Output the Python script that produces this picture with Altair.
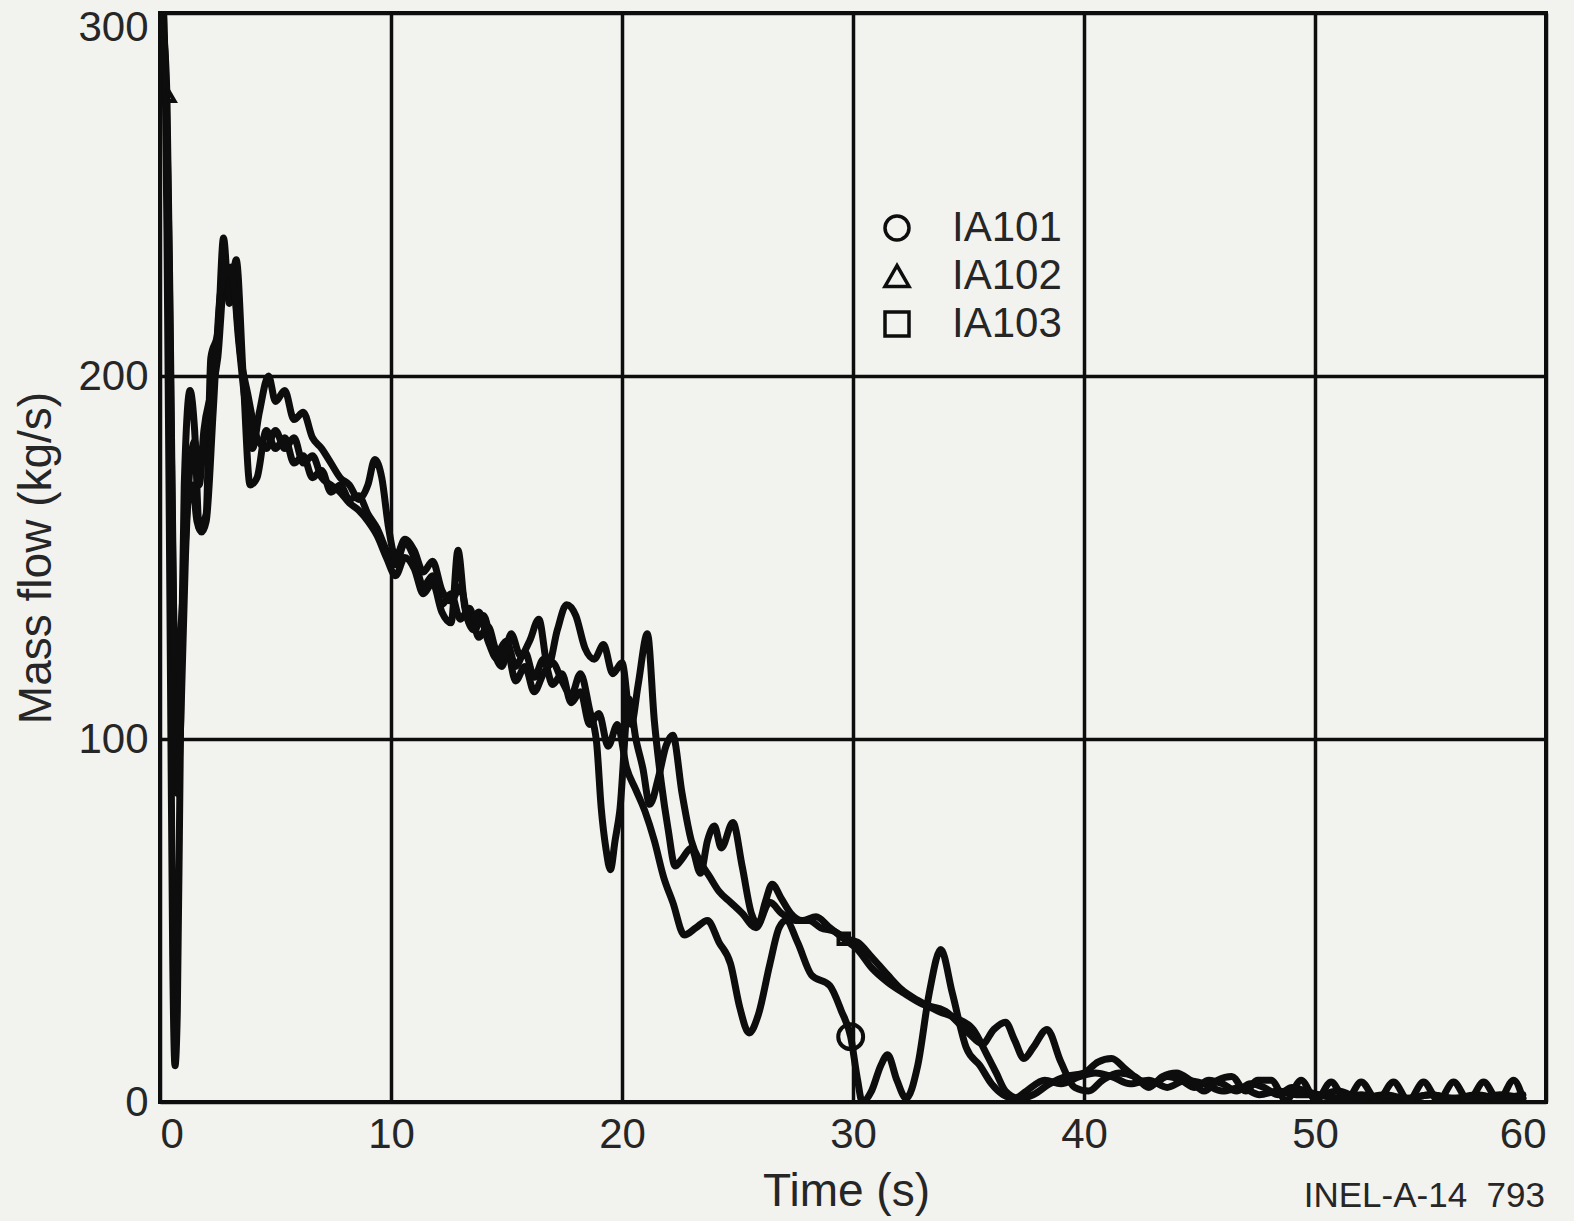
import altair as alt
import pandas as pd

# Mass-flow traces for the three instruments (time in s, flow in kg/s)
t101 = [0, 0.15, 0.3, 0.45, 0.55, 0.65, 0.75, 0.9, 1.05, 1.3, 1.5, 1.7, 2.0, 2.2, 2.5, 2.75,
        3.0, 3.3, 3.6, 3.9, 4.2, 4.6, 5.0, 5.4, 5.8, 6.2, 6.6, 7.0, 7.4, 7.8, 8.2, 8.6, 9.0,
        9.4, 9.8, 10.2, 10.6, 11.0, 11.4, 11.8, 12.2, 12.6, 13.0, 13.4, 13.8, 14.2, 14.6,
        15.0, 15.4, 15.8, 16.2, 16.6, 17.0, 17.4, 17.8, 18.2, 18.6, 19.0, 19.4, 19.8, 20.2,
        20.6, 21.0, 21.4, 21.8, 22.2, 22.7, 23.2, 23.7, 24.2, 24.7, 25.1, 25.5, 25.9, 26.4,
        26.8, 27.1, 27.6, 28.2, 29.0, 29.5, 29.9, 30.2, 30.4, 30.8, 31.2, 31.5, 31.9, 32.3,
        32.8, 33.3, 33.8, 34.3, 34.9, 35.5, 36.0, 36.5, 37.0, 37.5, 38.3, 39.0, 39.8, 40.5,
        41.2, 42.0, 42.8, 43.6, 44.4, 45.2, 46.0, 46.8, 47.6, 48.4, 49.2, 50.0, 51.0, 52.0,
        53.0, 54.0, 55.0, 56.0, 57.0, 58.0, 59.0]
v101 = [298, 300, 240, 120, 40, 10, 25, 110, 170, 196, 185, 158, 162, 205, 212, 238,
        220, 232, 200, 170, 172, 185, 180, 183, 176, 178, 172, 174, 168, 170, 166, 167, 162,
        158, 152, 148, 154, 150, 142, 145, 137, 140, 133, 136, 128, 131, 124,
        127, 120, 124, 117, 122, 115, 118, 110, 113, 104, 107, 98, 104, 92,
        86, 80, 72, 62, 55, 46, 48, 50, 44, 38, 26, 19, 24, 38,
        48, 50, 44, 35, 32, 25, 18, 6, 0, 3, 10, 13, 6, 1,
        10, 30, 42, 30, 15, 10, 5, 2, 1, 3, 6, 5, 7, 8,
        7, 5, 6, 4, 6, 5, 3, 4, 2, 3, 2, 2, 1, 2,
        1, 1, 2, 1, 1, 2, 1]

t102 = [0, 0.15, 0.3, 0.45, 0.6, 0.75, 0.9, 1.1, 1.3, 1.5, 1.7, 1.9, 2.2, 2.5, 2.8, 3.1,
        3.4, 3.7, 4.0, 4.3, 4.7, 5.0, 5.4, 5.8, 6.2, 6.6, 7.0, 7.4, 7.8, 8.2, 8.6, 9.0,
        9.3, 9.6, 9.9, 10.2, 10.6, 11.0, 11.4, 11.8, 12.2, 12.6, 13.0, 13.4, 13.8, 14.2,
        14.6, 15.0, 15.4, 15.8, 16.2, 16.6, 17.0, 17.4, 17.8, 18.2, 18.6, 18.9, 19.1, 19.3,
        19.5, 19.7, 19.9, 20.3, 20.6, 20.9, 21.2, 21.6, 21.9, 22.2, 22.6, 23.0, 23.4, 23.8,
        24.2, 24.7, 25.2, 25.8, 26.4, 26.9, 27.5, 28.1, 28.6, 29.2, 29.7, 30.2, 30.8, 31.5,
        32.1, 32.8, 33.7, 34.5, 35.2, 35.8, 36.2, 36.6, 37.2, 37.8, 38.5, 39.2, 40.0, 40.6,
        41.2, 41.8, 42.4, 43.0, 43.6, 44.2, 44.8, 45.4, 46.0, 46.6, 47.2, 47.8, 48.4, 49.0,
        49.6, 50.2, 51.0, 52.0, 53.0, 54.0, 55.0, 56.0, 57.0, 58.0, 59.0]
v102 = [300, 295, 277, 210, 130, 85, 105, 150, 175, 182, 170, 185, 195, 205, 228, 230,
        210, 192, 180, 190, 200, 193, 196, 188, 190, 183, 180, 176, 172, 170, 166, 170,
        177, 172, 158, 150, 155, 152, 146, 149, 141, 138, 142, 132, 135, 127,
        122, 125, 116, 120, 113, 118, 121, 116, 112, 118, 108, 99, 81, 70,
        64, 72, 80, 111, 100, 92, 82, 90, 98, 101, 85, 72, 66, 62,
        58, 55, 52, 48, 55, 52, 50, 50, 48, 47, 45, 44, 40, 35,
        31, 28, 25, 23, 20, 13, 8, 3, 1, 2, 5, 7, 8, 11,
        12, 9, 6, 5, 7, 6, 4, 6, 5, 3, 5, 4, 2, 4,
        3, 2, 3, 1, 2, 1, 2, 1, 2, 1, 2]

t103 = [0, 0.2, 0.4, 0.55, 0.7, 0.85, 1.0, 1.2, 1.4, 1.6, 1.8, 2.0, 2.3, 2.6, 2.9, 3.2,
        3.5, 3.8, 4.2, 4.6, 5.0, 5.4, 5.8, 6.2, 6.6, 7.0, 7.4, 7.8, 8.2, 8.6, 9.0, 9.4,
        9.8, 10.2, 10.6, 11.0, 11.4, 11.8, 12.2, 12.6, 12.9, 13.2, 13.6, 14.0, 14.4, 14.8,
        15.2, 15.6, 16.0, 16.4, 16.8, 17.2, 17.6, 18.0, 18.4, 18.8, 19.2, 19.6, 20.0, 20.4,
        20.7, 21.1, 21.4, 21.7, 22.0, 22.3, 22.6, 23.0, 23.4, 23.7, 24.0, 24.3, 24.8, 25.2,
        25.6, 25.9, 26.2, 26.5, 26.9, 27.3, 27.8, 28.4, 29.0, 29.6, 30.2, 30.8, 31.5, 32.2,
        33.0, 34.0, 35.0, 35.6, 36.1, 36.6, 37.0, 37.4, 37.8, 38.4, 39.0, 39.6, 40.2, 40.8,
        41.5, 42.2, 42.8, 43.4, 44.0, 44.6, 45.2, 45.8, 46.4, 47.0, 47.5, 48.1, 48.75, 49.4,
        50.05, 50.7, 51.35, 52.0, 52.7, 53.4, 54.05, 54.7, 55.35, 56.0, 56.65, 57.3, 57.95,
        58.6, 59.0]
v103 = [300, 290, 230, 150, 110, 125, 140, 165, 170, 160, 157, 160, 190, 222, 230, 225,
        205, 195, 183, 180, 185, 180, 183, 176, 178, 172, 170, 168, 165, 163, 160, 156,
        150, 145, 150, 147, 140, 143, 135, 132, 152, 136, 130, 134, 125, 120,
        129, 123, 127, 133, 120, 130, 137, 134, 125, 122, 126, 118, 121, 104,
        115, 129, 105, 88, 75, 65, 67, 70, 63, 72, 76, 70, 77, 65,
        52, 49, 55, 60, 56, 52, 50, 51, 48, 45, 42, 37, 33, 30,
        27, 25, 19, 16, 20, 22, 17, 12, 15, 20, 11, 4, 3, 6,
        8, 7, 4, 7, 8, 6, 3, 6, 7, 3, 6, 6, 0.5, 6,
        0.5, 5.5, 0.3, 5.5, 0.3, 5.5, 0.3, 5.5, 0.3, 5.5, 0.3, 5.5, 0.3,
        6, 1]

# Identifying symbols drawn on each trace, with their symbol areas
marker_series = ["IA101", "IA102", "IA103"]
marker_time = [29.9, 0.4, 29.6]
marker_flow = [18, 277, 45]
marker_area = [620, 110, 110]

x_ticks = [0, 10, 20, 30, 40, 50, 60]
y_ticks = [0, 100, 200, 300]

frames = []
for name, t, v in [("IA101", t101, v101), ("IA102", t102, v102), ("IA103", t103, v103)]:
    frames.append(pd.DataFrame({"series": name, "time": t, "flow": v}))
traces = pd.concat(frames, ignore_index=True)
markers = pd.DataFrame({"series": marker_series, "time": marker_time,
                        "flow": marker_flow, "area": marker_area})

FONT = "Liberation Sans"
INK = "#0d0d0d"
TEXT = "#262626"
PAPER = "#f2f2ef"

x_enc = alt.X("time:Q",
              scale=alt.Scale(domain=[0, 60], nice=False, zero=False),
              axis=alt.Axis(values=x_ticks, title="Time (s)", format="d", titleX=686))
y_enc = alt.Y("flow:Q",
              scale=alt.Scale(domain=[0, 300], nice=False),
              axis=alt.Axis(
                  values=y_ticks, title="Mass flow (kg/s)", format="d",
                  labelOffset={"condition": {"test": "datum.value == 300", "value": 14},
                               "value": 0},
              ))

lines = alt.Chart(traces).mark_line(
    color=INK, strokeWidth=7, interpolate="monotone", clip=True,
    strokeJoin="round", strokeCap="round"
).encode(x=x_enc, y=y_enc, detail="series:N")

points = alt.Chart(markers).mark_point(
    filled=False, stroke=INK, strokeWidth=4, opacity=1, clip=True
).encode(
    x=x_enc, y=y_enc,
    size=alt.Size("area:Q", scale=None, legend=None),
    shape=alt.Shape(
        "series:N",
        scale=alt.Scale(domain=marker_series, range=["circle", "triangle-up", "square"]),
        legend=alt.Legend(
            title=None, orient="none", legendX=716, legendY=194,
            symbolSize=576, symbolStrokeWidth=3.5, symbolStrokeColor=INK,
            symbolFillColor="transparent", labelFontSize=42, labelFont=FONT,
            labelColor=TEXT, labelOffset=34, rowPadding=6, padding=0,
        ),
    ),
)

note = alt.Chart(pd.DataFrame({"label": ["INEL-A-14\u00a0\u00a0793"]})).mark_text(
    align="right", baseline="alphabetic", fontSize=35, font=FONT, color=TEXT
).encode(x=alt.value(1385), y=alt.value(1194), text="label:N")

chart = alt.layer(lines, points, note).properties(
    width=1386, height=1089,
    autosize=alt.AutoSizeParams(type="none"),
    padding={"left": 160, "top": 13, "right": 28, "bottom": 119},
    background=PAPER,
).configure_view(
    stroke=INK, strokeWidth=4, fill=PAPER
).configure_axis(
    grid=True, gridColor=INK, gridWidth=3.5, gridOpacity=1,
    domain=False, ticks=False,
    labelFont=FONT, labelFontSize=42, labelColor=TEXT, labelPadding=12,
    titleFont=FONT, titleFontSize=46, titleFontWeight="normal", titleColor=TEXT,
).configure_axisX(
    titlePadding=14
).configure_axisY(
    titlePadding=17
)

chart.save("out.html", embed_options={"renderer": "svg", "actions": False})
